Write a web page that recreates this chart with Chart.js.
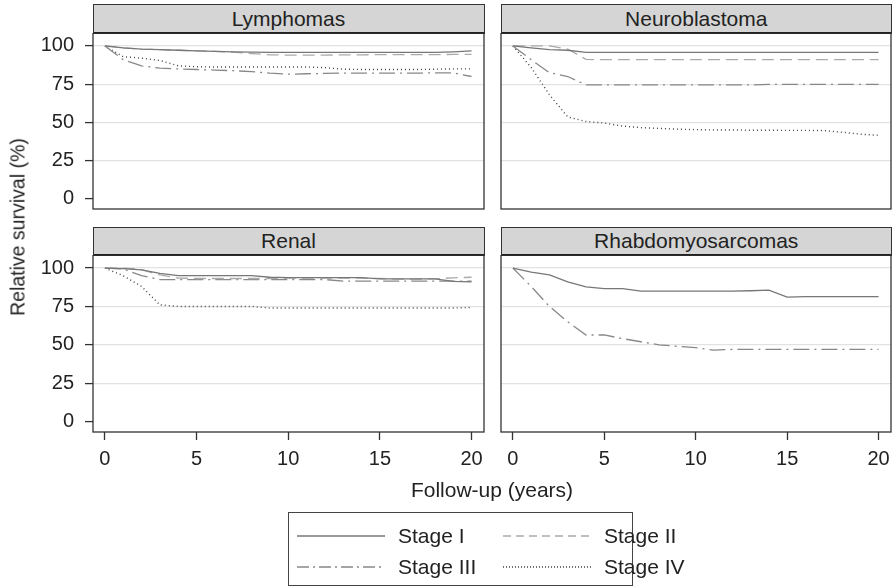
<!DOCTYPE html>
<html>
<head>
<meta charset="utf-8">
<script src="https://cdn.jsdelivr.net/npm/chart.js@4"></script>
<style>
  body { margin: 0; background: #fff; }
  #wrap { position: relative; width: 893px; height: 587px; font-family: "Liberation Sans", Arial, Helvetica, sans-serif; color: #222; }
  canvas { position: absolute; }
  .strip { position: absolute; box-sizing: border-box; background: #d5d5d5; border: 1.3px solid #333; border-bottom: 2px solid #222; text-align: center; font-size: 21px; }
  .lbl { position: absolute; font-size: 21px; white-space: nowrap; }
  #legend { position: absolute; left: 288px; top: 512px; width: 345px; height: 74px; box-sizing: border-box; border: 1.3px solid #444; }
  .item { position: absolute; font-size: 21px; }
  .item svg { position: absolute; top: 0; }
</style>
</head>
<body>
<div id="wrap">
  <div class="strip" style="left:92.5px;top:4px;width:392px;height:30px;line-height:27px">Lymphomas</div>
  <div class="strip" style="left:500.5px;top:4px;width:391.5px;height:30px;line-height:27px">Neuroblastoma</div>
  <div class="strip" style="left:92.5px;top:227px;width:392px;height:29px;line-height:26px">Renal</div>
  <div class="strip" style="left:500.5px;top:227px;width:391.5px;height:29px;line-height:26px">Rhabdomyosarcomas</div>

  <canvas id="lymph" width="490" height="180" style="left:0;top:33px"></canvas>
  <canvas id="neuro" width="398" height="180" style="left:495px;top:33px"></canvas>
  <canvas id="renal" width="490" height="225" style="left:0;top:255px"></canvas>
  <canvas id="rhabdo" width="398" height="225" style="left:495px;top:255px"></canvas>

  <div class="lbl" style="left:18px;top:227px;font-size:19.5px;transform:translate(-50%,-50%) rotate(-90deg)">Relative survival (%)</div>
  <div class="lbl" style="left:492px;top:490px;transform:translate(-50%,-50%)">Follow-up (years)</div>

  <div id="legend"></div>
</div>
<script>
const years = [0, 1, 2, 3, 4, 5, 6, 7, 8, 9, 10, 11, 12, 13, 14, 15, 16, 17, 18, 19, 20];
const xTicks = [0, 5, 10, 15, 20];
const yTicks = [0, 25, 50, 75, 100];
const stageNames = ['Stage I', 'Stage II', 'Stage III', 'Stage IV'];

// Lymphomas
const lymphI   = [100, 98.8, 98, 97.6, 97.2, 96.8, 96.5, 96.2, 96, 95.8, 95.8, 95.8, 95.8, 95.8, 95.8, 95.8, 95.8, 95.8, 95.8, 96.2, 96.8];
const lymphII  = [100, 98.8, 98, 97.6, 97.2, 96.8, 96.5, 96, 95, 94.2, 94, 94, 94, 94.2, 94.2, 94.3, 94.3, 94.3, 94.3, 94.5, 94.5];
const lymphIII = [100, 91, 87, 85.5, 85, 84.6, 84.2, 83.8, 83.2, 82.2, 81.5, 81.8, 82, 82.2, 82.2, 82.2, 82.2, 82.2, 82.4, 82.4, 80];
const lymphIV  = [100, 93, 92, 90.5, 87, 86.4, 86.2, 86.2, 86.2, 86.2, 86.2, 86.2, 85.8, 84.8, 84.6, 84.6, 84.6, 84.6, 84.8, 85, 85];

// Neuroblastoma
const neuroI   = [100, 98.8, 97.6, 97.2, 95.8, 95.8, 95.8, 95.8, 95.8, 95.8, 95.8, 95.8, 95.8, 95.8, 95.8, 95.8, 95.8, 95.8, 95.8, 95.8, 95.8];
const neuroII  = [100, 100, 100, 98, 91.2, 91, 91, 91, 91, 91, 91, 91, 91, 91, 91, 91, 91, 91, 91, 91, 91];
const neuroIII = [100, 91, 82.5, 80, 74.5, 74.5, 74.5, 74.5, 74.5, 74.5, 74.5, 74.5, 74.5, 74.5, 74.8, 74.8, 74.8, 74.8, 74.8, 74.8, 74.8];
const neuroIV  = [100, 86, 68, 53.5, 50.5, 49.5, 47.5, 46.5, 46, 45.5, 45.2, 45, 45, 44.8, 44.8, 44.7, 44.7, 44.6, 43.5, 42.2, 41.5];

// Renal
const renalI   = [100, 99.6, 98.8, 96.5, 95, 95, 95, 95, 95, 94, 93.8, 93.8, 93.8, 93.8, 93.8, 93, 93, 93, 93, 91.3, 91];
const renalII  = [100, 100, 99, 95.5, 93.5, 93.2, 93.2, 93.2, 93.2, 93.2, 93.4, 93.4, 93.4, 93.4, 93.4, 93.2, 92.8, 92.8, 93, 93.6, 94];
const renalIII = [100, 99.4, 95, 92.5, 92.5, 92.5, 92.5, 92.5, 92.5, 92.5, 92.5, 92.5, 92.5, 91.5, 91.5, 91.5, 91.5, 91.5, 91.5, 91.5, 91.5];
const renalIV  = [100, 95, 88, 76, 75, 75, 75, 75, 75, 74, 74, 74, 74, 74, 74, 74, 74, 74, 74, 74, 74.3];

// Rhabdomyosarcomas (no stage II / IV curves)
const rhabdoI   = [100, 97.4, 95.6, 91, 87.7, 86.6, 86.6, 85, 85, 85, 85, 85, 85, 85.2, 85.6, 81, 81.4, 81.4, 81.4, 81.4, 81.4];
const rhabdoIII = [100, 88, 75, 65, 56.4, 56.4, 54, 52, 50, 49, 48.2, 46.5, 47, 47, 47, 47, 47, 47, 47, 47, 47];

const stageStyle = [
    { color: '#777', dash: [], legendDash: '' },
    { color: '#aaa', dash: [12, 6], legendDash: '8 5' },
    { color: '#888', dash: [16, 5, 2, 5], legendDash: '12 4 2 4' },
    { color: '#444', dash: [1, 3], legendDash: '1 2' }
];

Chart.defaults.font.family = '"Liberation Sans", Arial, Helvetica, sans-serif';
Chart.defaults.font.size = 20;
Chart.defaults.color = '#222';

const boxPlugin = {
    id: 'box',
    afterDraw(chart) {
        const a = chart.chartArea;
        const ctx = chart.ctx;
        ctx.save();
        ctx.strokeStyle = '#333';
        ctx.lineWidth = 1.3;
        ctx.strokeRect(a.left, a.top, a.right - a.left, a.bottom - a.top);
        ctx.restore();
    }
};

// stop tick labels from pushing the plot area around
function noPadding(scale) {
    scale.paddingTop = 0;
    scale.paddingBottom = 0;
    scale.paddingLeft = 0;
    scale.paddingRight = 0;
}

function makePanel(id, series, left, bottomRow) {
    const datasets = [];
    series.forEach((values, i) => {
        if (!values) return;
        datasets.push({
            label: stageNames[i],
            data: years.map((yr, k) => ({ x: yr, y: values[k] })),
            borderColor: stageStyle[i].color,
            borderDash: stageStyle[i].dash,
            borderWidth: i === 3 ? 1.4 : 1.3,
            pointRadius: 0,
            tension: 0,
            fill: false
        });
    });

    new Chart(document.getElementById(id), {
        type: 'line',
        data: { datasets: datasets },
        plugins: [boxPlugin],
        options: {
            responsive: false,
            animation: false,
            layout: { padding: { top: 0, left: 0, right: left ? 6 : 2, bottom: bottomRow ? 0 : 4 } },
            plugins: { legend: { display: false }, tooltip: { enabled: false } },
            scales: {
                x: {
                    type: 'linear',
                    min: -0.65,
                    max: 20.68,
                    display: bottomRow,
                    afterBuildTicks: axis => { axis.ticks = xTicks.map(v => ({ value: v })); },
                    afterFit: scale => {
                        noPadding(scale);
                        if (bottomRow) scale.height = 48;
                    },
                    grid: { drawOnChartArea: false, drawTicks: true, tickLength: 8, tickColor: '#333', tickWidth: 1.3 },
                    border: { display: false },
                    ticks: { padding: 7, maxRotation: 0, autoSkip: false }
                },
                y: {
                    type: 'linear',
                    min: -6.8,
                    max: 108.5,
                    afterBuildTicks: axis => { axis.ticks = yTicks.map(v => ({ value: v })); },
                    afterFit: scale => {
                        noPadding(scale);
                        scale.width = left ? 93 : 6;
                    },
                    grid: {
                        color: ctx => (ctx.tick && ctx.tick.value === 0) ? 'rgba(0,0,0,0)' : '#e2e2e2',
                        lineWidth: 1.2,
                        drawTicks: left,
                        tickLength: 8,
                        tickColor: '#333',
                        tickWidth: 1.3
                    },
                    border: { display: false },
                    ticks: { display: left, padding: 11, autoSkip: false }
                }
            }
        }
    });
}

makePanel('lymph', [lymphI, lymphII, lymphIII, lymphIV], true, false);
makePanel('neuro', [neuroI, neuroII, neuroIII, neuroIV], false, false);
makePanel('renal', [renalI, renalII, renalIII, renalIV], true, true);
makePanel('rhabdo', [rhabdoI, null, rhabdoIII, null], false, true);

// legend: two columns, two rows
const legend = document.getElementById('legend');
const legendPos = [[8, 11], [214, 11], [8, 42], [214, 42]];
stageNames.forEach((name, i) => {
    const item = document.createElement('div');
    item.className = 'item';
    item.style.left = legendPos[i][0] + 'px';
    item.style.top = legendPos[i][1] + 'px';
    item.innerHTML =
        '<svg width="90" height="24"><line x1="0" y1="12" x2="88" y2="12" stroke="' + stageStyle[i].color +
        '" stroke-width="1.3" stroke-dasharray="' + stageStyle[i].legendDash + '"/></svg>' +
        '<span style="position:absolute;left:101px;top:0;line-height:24px;white-space:nowrap">' + name + '</span>';
    legend.appendChild(item);
});
</script>
</body>
</html>
